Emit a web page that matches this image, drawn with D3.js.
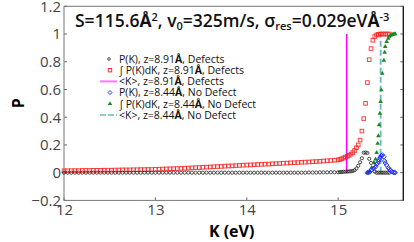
<!DOCTYPE html>
<html>
<head>
<meta charset="utf-8">
<script src="https://cdn.jsdelivr.net/npm/d3@7"></script>
<style>
  body { margin: 0; background: #fff; }
  text { font-family: "Open Sans", "DejaVu Sans", sans-serif; }
</style>
</head>
<body>
<div id="chart"></div>
<script>
// K grid shared by the two "Defects" series (z=8.91 A)
let kDefect = [12.00, 12.04, 12.08, 12.12, 12.16, 12.20, 12.24, 12.28, 12.32, 12.36, 12.40, 12.44, 12.48,
    12.52, 12.56, 12.60, 12.64, 12.68, 12.72, 12.76, 12.80, 12.84, 12.88, 12.92, 12.96,
    13.00, 13.04, 13.08, 13.12, 13.16, 13.20, 13.24, 13.28, 13.32, 13.36, 13.40, 13.44, 13.48,
    13.52, 13.56, 13.60, 13.64, 13.68, 13.72, 13.76, 13.80, 13.84, 13.88, 13.92, 13.96,
    14.00, 14.04, 14.08, 14.12, 14.16, 14.20, 14.24, 14.28, 14.32, 14.36, 14.40, 14.44, 14.48,
    14.52, 14.56, 14.60, 14.64, 14.68, 14.72, 14.76, 14.80, 14.84, 14.88, 14.92, 14.96,
    15.00, 15.02, 15.04, 15.06, 15.08, 15.10, 15.12, 15.14, 15.16, 15.18, 15.20, 15.22, 15.24,
    15.26, 15.28, 15.30, 15.32, 15.34, 15.36, 15.38, 15.40, 15.42, 15.44, 15.46, 15.48, 15.50,
    15.52, 15.54, 15.56]

// P(K), defects
let pDefect = [0, 0, 0, 0, 0, 0, 0, 0, 0, 0, 0, 0, 0,
    0, 0, 0, 0, 0, 0, 0, 0, 0, 0, 0, 0,
    0, 0, 0, 0, 0, 0, 0, 0, 0, 0, 0, 0, 0,
    0, 0, 0, 0, 0, 0, 0, 0, 0, 0, 0, 0,
    0, 0, 0, 0, 0, 0, 0, 0, 0, 0, 0, 0, 0,
    0, 0, 0, 0, 0.001, 0.001, 0.001, 0.002, 0.002, 0.002, 0.003, 0.003,
    0.003, 0.004, 0.005, 0.006, 0.007, 0.008, 0.009, 0.010, 0.012, 0.018, 0.030, 0.050, 0.075,
    0.104, 0.144, 0.145, 0.142, 0.100, 0.070, 0.030, 0.008, 0, 0, 0, 0, 0,
    0, 0, 0]

// integral of P(K)dK, defects
let cumDefect = [0.014, 0.014, 0.015, 0.015, 0.015, 0.016, 0.016, 0.016, 0.017, 0.017, 0.017, 0.018, 0.018,
    0.018, 0.019, 0.019, 0.020, 0.020, 0.020, 0.021, 0.021, 0.022, 0.022, 0.023, 0.023,
    0.024, 0.025, 0.026, 0.027, 0.028, 0.029, 0.030, 0.031, 0.032, 0.033, 0.035, 0.036, 0.037,
    0.039, 0.040, 0.041, 0.043, 0.044, 0.045, 0.047, 0.048, 0.049, 0.051, 0.052, 0.054,
    0.055, 0.056, 0.057, 0.059, 0.060, 0.061, 0.062, 0.064, 0.065, 0.066, 0.068, 0.069, 0.071,
    0.072, 0.073, 0.075, 0.076, 0.077, 0.079, 0.080, 0.082, 0.084, 0.086, 0.088, 0.090,
    0.092, 0.096, 0.100, 0.106, 0.113, 0.118, 0.125, 0.134, 0.145, 0.160, 0.180, 0.200, 0.235,
    0.300, 0.390, 0.500, 0.650, 0.815, 0.895, 0.955, 0.982, 0.993, 0.998, 1, 1, 1,
    1, 1, 1]

// "No Defect" series (z=8.44 A)
let kClean = [15.32, 15.33, 15.345, 15.366, 15.392, 15.41, 15.421, 15.432, 15.44, 15.448, 15.457,
    15.465, 15.473, 15.483, 15.50, 15.509, 15.515, 15.531, 15.548, 15.56, 15.574, 15.59, 15.603,
    15.615, 15.625]
let pClean = [0, 0, 0.005, 0.02, 0.032, 0.043, 0.060, 0.068, 0.080, 0.092, 0.104,
    0.115, 0.123, 0.128, 0.115, 0.084, 0.070, 0.055, 0.036, 0.025, 0.015, 0.007, 0.002,
    0, 0]
let cumClean = [0, 0.004, 0.012, 0.036, 0.072, 0.097, 0.144, 0.210, 0.265, 0.345, 0.428,
    0.512, 0.596, 0.716, 0.810, 0.868, 0.909, 0.945, 0.969, 0.982, 0.990, 0.996, 0.999,
    1, 1]

// mean energies <K>
let meanDefect = 15.093
let meanClean = 15.465

let xTicks = [12, 13, 14, 15]
let yTicks = [-0.2, 0, 0.2, 0.4, 0.6, 0.8, 1, 1.2]

let legendLabels = [
    "P(K),  z=8.91", "\u222B P(K)dK, z=8.91", "<K>, z=8.91",
    "P(K), z=8.44", "\u222B P(K)dK, z=8.44", "<K>, z=8.44"]
let legendTails = [", Defects", ", Defects", ", Defects", ", No Defect", ", No Defect", ", No Defect"]

let width = 414, height = 242
let margin = {top: 6.3, right: 10.7, bottom: 41.6, left: 64}
let plotW = width - margin.left - margin.right
let plotH = height - margin.top - margin.bottom

let svg = d3.select("#chart").append("svg")
    .attr("width", width)
    .attr("height", height)

let x = d3.scaleLinear().domain([12, 15.713]).range([margin.left, margin.left + plotW])
let y = d3.scaleLinear().domain([-0.2, 1.2]).range([margin.top + plotH, margin.top])

// tick labels
svg.append("g")
    .attr("transform", "translate(" + margin.left + ",0)")
    .call(d3.axisLeft(y).tickValues(yTicks).tickSize(0).tickPadding(3)
        .tickFormat(d => d3.format("~g")(d).replace("-", "\u2212")))
    .call(g => g.select(".domain").remove())
    .selectAll("text")
    .style("font-size", "15px")
    .style("font-family", "'Open Sans', sans-serif")
    .attr("fill", "#444")

svg.append("g")
    .attr("transform", "translate(0," + (margin.top + plotH) + ")")
    .call(d3.axisBottom(x).tickValues(xTicks).tickSize(0).tickPadding(4).tickFormat(d3.format("d")))
    .call(g => g.select(".domain").remove())
    .selectAll("text")
    .style("font-size", "15px")
    .style("font-family", "'Open Sans', sans-serif")
    .attr("fill", "#444")

// inward tick marks on left, right and bottom
let ticksG = svg.append("g").attr("stroke", "#666").attr("stroke-width", 1)
yTicks.forEach(function(t) {
    ticksG.append("line").attr("x1", margin.left).attr("x2", margin.left + 3)
        .attr("y1", y(t)).attr("y2", y(t))
    ticksG.append("line").attr("x1", margin.left + plotW).attr("x2", margin.left + plotW - 3)
        .attr("y1", y(t)).attr("y2", y(t))
})
xTicks.forEach(function(t) {
    ticksG.append("line").attr("x1", x(t)).attr("x2", x(t))
        .attr("y1", margin.top + plotH).attr("y2", margin.top + plotH - 3)
})

// plot frame
svg.append("rect")
    .attr("x", margin.left).attr("y", margin.top)
    .attr("width", plotW).attr("height", plotH)
    .attr("fill", "none").attr("stroke", "#777").attr("stroke-width", 1)
svg.append("line")
    .attr("x1", margin.left + plotW).attr("x2", margin.left + plotW)
    .attr("y1", margin.top).attr("y2", margin.top + plotH)
    .attr("stroke", "#111").attr("stroke-width", 1.2)

// axis labels
svg.append("text")
    .attr("transform", "translate(24," + (margin.top + plotH / 2) + ") rotate(-90)")
    .attr("text-anchor", "middle")
    .style("font-size", "16px").style("font-weight", "bold")
    .text("P")
svg.append("text")
    .attr("x", margin.left + plotW / 2 - 2).attr("y", 237)
    .attr("text-anchor", "middle")
    .style("font-size", "16px").style("font-weight", "bold")
    .text("K (eV)")

// title with sub/superscripts
let title = svg.append("text").attr("x", 75).attr("y", 27)
    .style("font-size", "17.5px").style("font-weight", 600).attr("fill", "#111")
title.append("tspan").text("S=115.6")
title.append("tspan").style("font-weight", "bold").text("\u00C5")
title.append("tspan").attr("dy", -6).style("font-size", "11px").text("2")
title.append("tspan").attr("dy", 6).text(", v")
title.append("tspan").attr("dy", 3).style("font-size", "11px").text("0")
title.append("tspan").attr("dy", -3).text("=325m/s, \u03C3")
title.append("tspan").attr("dy", 3).style("font-size", "11px").text("res")
title.append("tspan").attr("dy", -3).text("=0.029eV")
title.append("tspan").style("font-weight", "bold").text("\u00C5")
title.append("tspan").attr("dy", -6).style("font-size", "11px").text("-3")

// vertical <K> lines
svg.append("line")
    .attr("x1", x(meanDefect)).attr("x2", x(meanDefect))
    .attr("y1", y(0)).attr("y2", y(1))
    .attr("stroke", "#ff00ff").attr("stroke-width", 1.5)
svg.append("line")
    .attr("x1", x(meanClean)).attr("x2", x(meanClean))
    .attr("y1", y(0)).attr("y2", y(1))
    .attr("stroke", "#66bbbb").attr("stroke-width", 1.8)
    .attr("stroke-dasharray", "6,3")

// data points
let defectData = kDefect.map((k, i) => ({k: k, p: pDefect[i], c: cumDefect[i]}))
let cleanData = kClean.map((k, i) => ({k: k, p: pClean[i], c: cumClean[i]}))

svg.append("g").selectAll("rect")
    .data(defectData).enter().append("rect")
    .attr("x", d => x(d.k) - 1.8).attr("y", d => y(d.c) - 1.8)
    .attr("width", 3.6).attr("height", 3.6)
    .attr("fill", "none").attr("stroke", "#ff2020").attr("stroke-width", 1)
    .attr("stroke-opacity", 0.85)

svg.append("g").selectAll("circle")
    .data(defectData).enter().append("circle")
    .attr("cx", d => x(d.k)).attr("cy", d => y(d.p))
    .attr("r", 1.6)
    .attr("fill", "none").attr("stroke", "#222").attr("stroke-width", 0.8)

let tri = d3.symbol().type(d3.symbolTriangle).size(9)
svg.append("g").selectAll("path")
    .data(cleanData).enter().append("path")
    .attr("transform", d => "translate(" + x(d.k) + "," + y(d.c) + ")")
    .attr("d", tri)
    .attr("fill", "#1a8a1a")

svg.append("g").selectAll("path")
    .data(cleanData).enter().append("path")
    .attr("transform", d => "translate(" + x(d.k) + "," + y(d.p) + ") rotate(45)")
    .attr("d", "M-1.6,-1.6H1.6V1.6H-1.6Z")
    .attr("fill", "none").attr("stroke", "#1e2cff").attr("stroke-width", 0.9)

// legend
let legend = svg.append("g")
let rowY = [59, 70.2, 81.4, 92.6, 103.8, 115]
legendLabels.forEach(function(lab, i) {
    let cy = rowY[i]
    if (i === 0) {
        legend.append("circle").attr("cx", 109).attr("cy", cy).attr("r", 1.3)
            .attr("fill", "none").attr("stroke", "#222").attr("stroke-width", 0.8)
    } else if (i === 1) {
        legend.append("rect").attr("x", 108.3).attr("y", cy - 1.7).attr("width", 3.4).attr("height", 3.4)
            .attr("fill", "none").attr("stroke", "#ff2020").attr("stroke-width", 0.9)
    } else if (i === 2) {
        legend.append("line").attr("x1", 100).attr("x2", 117).attr("y1", cy).attr("y2", cy)
            .attr("stroke", "#ff77ff").attr("stroke-width", 2)
    } else if (i === 3) {
        legend.append("path").attr("transform", "translate(110," + cy + ") rotate(45)")
            .attr("d", "M-1.4,-1.4H1.4V1.4H-1.4Z")
            .attr("fill", "none").attr("stroke", "#1e2cff").attr("stroke-width", 0.9)
    } else if (i === 4) {
        legend.append("path").attr("transform", "translate(110," + cy + ")")
            .attr("d", tri).attr("fill", "#1a8a1a")
    } else {
        legend.append("line").attr("x1", 100).attr("x2", 117).attr("y1", cy).attr("y2", cy)
            .attr("stroke", "#88cccc").attr("stroke-width", 2).attr("stroke-dasharray", "6,2")
    }
    let t = legend.append("text").attr("x", 119).attr("y", cy + 3.8)
        .style("font-size", "10.5px").attr("fill", "#111")
    t.append("tspan").text(lab)
    t.append("tspan").style("font-weight", "bold").text("\u00C5")
    t.append("tspan").text(legendTails[i])
})
</script>
</body>
</html>
